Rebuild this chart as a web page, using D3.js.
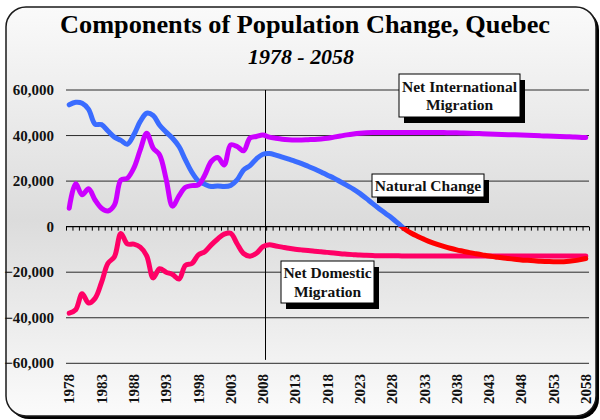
<!DOCTYPE html>
<html>
<head>
<meta charset="utf-8">
<script src="https://cdn.jsdelivr.net/npm/d3@7"></script>
<style>
  html, body { margin: 0; padding: 0; background: #ffffff; }
  svg { display: block; }
  text { font-family: "Liberation Serif", "Times New Roman", serif; }
</style>
</head>
<body>
<svg id="chart" width="600" height="420"></svg>
<script>
// Components of population change for Quebec, 1978-2058 (persons per year)
const years = d3.range(1978, 2059);

const naturalChange = [
  53500, 54600, 54200, 51500, 45000, 44800, 42000, 39300, 37900, 36200,
  40300, 46200, 49800, 48800, 44500, 41500, 38800, 35200, 29300, 23900,
  20100, 18600, 17600, 17900, 17600, 18100, 20500, 24900, 26800, 29800,
  31800, 32100, 31400, 30500, 29600, 28700, 27700, 26500, 25300, 24000,
  22600, 21300, 19700, 18100, 16500, 14600, 12400, 10100, 7900, 5800,
  3700, 1300, -1100, -2900, -4300, -5600, -6800, -7800, -8700, -9500,
  -10200, -10800, -11400, -11900, -12400, -12900, -13300, -13700, -14000, -14300,
  -14600, -14800, -15000, -15200, -15300, -15400, -15400, -15300, -15000, -14600,
  -14000
];

const netInternational = [
  8100, 18800, 14000, 16600, 11700, 8100, 6900, 9500, 20500, 21300,
  25700, 33700, 41000, 34500, 31500, 21000, 9000, 13500, 17300, 18000,
  18300, 22700, 28600, 30400, 27100, 35900, 35200, 33300, 38900, 39600,
  40200, 39300, 38800, 38400, 38200, 38100, 38100, 38200, 38300, 38500,
  38800, 39300, 39800, 40300, 40700, 41000, 41200, 41300, 41300, 41300,
  41300, 41300, 41300, 41300, 41300, 41300, 41300, 41300, 41300, 41200,
  41200, 41100, 41000, 40900, 40800, 40700, 40600, 40500, 40400, 40300,
  40200, 40100, 40000, 39900, 39800, 39700, 39600, 39500, 39400, 39300,
  39100
];

const netDomestic = [
  -38000, -36500, -29500, -33500, -31500, -24500, -16100, -13200, -3000, -7600,
  -7700, -9000, -12800, -22500, -18500, -20000, -21000, -23000, -17000, -16200,
  -12400, -11000, -8000, -5400, -3300, -2900, -7500, -11800, -13000, -11700,
  -8800, -8000, -8500, -9000, -9500, -9900, -10200, -10500, -10800, -11000,
  -11300, -11600, -11900, -12100, -12300, -12500, -12600, -12700, -12800, -12800,
  -12800, -12800, -12900, -12900, -12900, -12900, -12900, -12900, -12900, -12900,
  -12900, -12900, -12900, -12900, -12900, -12900, -12900, -12900, -12900, -12900,
  -12900, -12900, -12900, -12900, -12900, -12900, -12900, -12900, -12900, -12900,
  -12900
];

const yTicks = [-60000, -40000, -20000, 0, 20000, 40000, 60000];
const xLabelYears = d3.range(1978, 2059, 5);
const projectionStart = 2008.4;

const svg = d3.select("#chart");

// Frame with vertical shading
const defs = svg.append("defs");
const grad = defs.append("linearGradient")
  .attr("id", "bg").attr("x1", 0).attr("y1", 0).attr("x2", 0).attr("y2", 1);
grad.append("stop").attr("offset", "0%").attr("stop-color", "#fafafa");
grad.append("stop").attr("offset", "52%").attr("stop-color", "#dcdcdc");
grad.append("stop").attr("offset", "100%").attr("stop-color", "#fbfbfb");

svg.append("rect")
  .attr("x", 9).attr("y", 10).attr("width", 590).attr("height", 409)
  .attr("rx", 20).attr("fill", "#000");
svg.append("rect")
  .attr("x", 6).attr("y", 7).attr("width", 590).attr("height", 409)
  .attr("rx", 20).attr("fill", "url(#bg)")
  .attr("stroke", "#1a1a1a").attr("stroke-width", 1.5);

// Titles
svg.append("text")
  .attr("x", 305).attr("y", 33)
  .attr("text-anchor", "middle")
  .attr("font-size", 25).attr("font-weight", "bold")
  .attr("textLength", 490).attr("lengthAdjust", "spacingAndGlyphs")
  .text("Components of Population Change, Quebec");
svg.append("text")
  .attr("x", 301).attr("y", 64)
  .attr("text-anchor", "middle")
  .attr("font-size", 20).attr("font-style", "italic").attr("font-weight", "bold")
  .attr("textLength", 106).attr("lengthAdjust", "spacingAndGlyphs")
  .text("1978 - 2058");

// Scales
const x = d3.scaleLinear().domain([1977.5, 2058.5]).range([66, 589]);
const y = d3.scaleLinear().domain([-60000, 60000]).range([363.3, 90]);

// Gridlines
svg.append("g")
  .selectAll("line")
  .data(yTicks.filter(d => d !== 0))
  .join("line")
  .attr("x1", x.range()[0]).attr("x2", x.range()[1])
  .attr("y1", d => y(d)).attr("y2", d => y(d))
  .attr("stroke", "#2a2a2a").attr("stroke-width", 1);

// Y labels
const fmt = d3.format(",");
svg.append("g")
  .selectAll("text")
  .data(yTicks)
  .join("text")
  .attr("x", 54)
  .attr("y", d => y(d))
  .attr("dy", "0.34em")
  .attr("text-anchor", "end")
  .attr("font-size", 15).attr("font-weight", "bold")
  .attr("fill", "#111")
  .text(d => fmt(d));

// Zero axis with yearly ticks
const zeroAxis = d3.axisBottom(x)
  .tickValues(d3.range(1977.5, 2059, 1))
  .tickSize(4)
  .tickFormat("");
const axisG = svg.append("g")
  .attr("transform", `translate(0,${y(0)})`)
  .call(zeroAxis);
axisG.select(".domain").attr("stroke", "#000").attr("stroke-width", 1.2).attr("d", `M${x.range()[0]},0H${x.range()[1]}`);
axisG.selectAll(".tick line").attr("stroke", "#000");

// X labels (rotated)
svg.append("g")
  .selectAll("text")
  .data(xLabelYears)
  .join("text")
  .attr("transform", d => `translate(${x(d)},374) rotate(-90)`)
  .attr("dy", "0.35em")
  .attr("text-anchor", "end")
  .attr("font-size", 15).attr("font-weight", "bold")
  .attr("fill", "#111")
  .text(d => d);

// Projection divider
svg.append("line")
  .attr("x1", x(projectionStart)).attr("x2", x(projectionStart))
  .attr("y1", y(60000)).attr("y2", y(-58500))
  .attr("stroke", "#000").attr("stroke-width", 1);

// Series lines
const line = d3.line()
  .x((d, i) => x(years[i]))
  .y(d => y(d))
  .curve(d3.curveCatmullRom.alpha(0.5));

// Natural change: blue while positive, red once negative
defs.append("clipPath").attr("id", "clipPos")
  .append("rect").attr("x", 0).attr("y", 0).attr("width", 600).attr("height", y(0));
defs.append("clipPath").attr("id", "clipNeg")
  .append("rect").attr("x", 0).attr("y", y(0)).attr("width", 600).attr("height", 420 - y(0));

const drawSeries = (values, color, clip) => {
  const p = svg.append("path")
    .attr("d", line(values))
    .attr("fill", "none")
    .attr("stroke", color)
    .attr("stroke-width", 5)
    .attr("stroke-linejoin", "round")
    .attr("stroke-linecap", "round");
  if (clip) p.attr("clip-path", `url(#${clip})`);
};

drawSeries(netDomestic, "#ff0066");
drawSeries(naturalChange, "#ff0000", "clipNeg");
drawSeries(naturalChange, "#3a6cff", "clipPos");
drawSeries(netInternational, "#cc00ff");

// Series labels
const labels = [
  { lines: ["Net International", "Migration"], x: 399, y: 74, w: 121, h: 43 },
  { lines: ["Natural Change"], x: 372, y: 174, w: 112, h: 23 },
  { lines: ["Net Domestic", "Migration"], x: 281, y: 261, w: 93, h: 42 }
];
const lg = svg.append("g");
labels.forEach(l => {
  lg.append("rect")
    .attr("x", l.x + 5).attr("y", l.y + 6).attr("width", l.w).attr("height", l.h)
    .attr("fill", "#000");
  lg.append("rect")
    .attr("x", l.x).attr("y", l.y).attr("width", l.w).attr("height", l.h)
    .attr("fill", "#fff").attr("stroke", "#000").attr("stroke-width", 1);
  const n = l.lines.length;
  l.lines.forEach((t, i) => {
    lg.append("text")
      .attr("x", l.x + l.w / 2)
      .attr("y", l.y + l.h / 2 + (i - (n - 1) / 2) * 18.5)
      .attr("dy", "0.35em")
      .attr("text-anchor", "middle")
      .attr("font-size", 15.5).attr("font-weight", "bold")
      .attr("fill", "#111")
      .text(t);
  });
});
</script>
</body>
</html>
